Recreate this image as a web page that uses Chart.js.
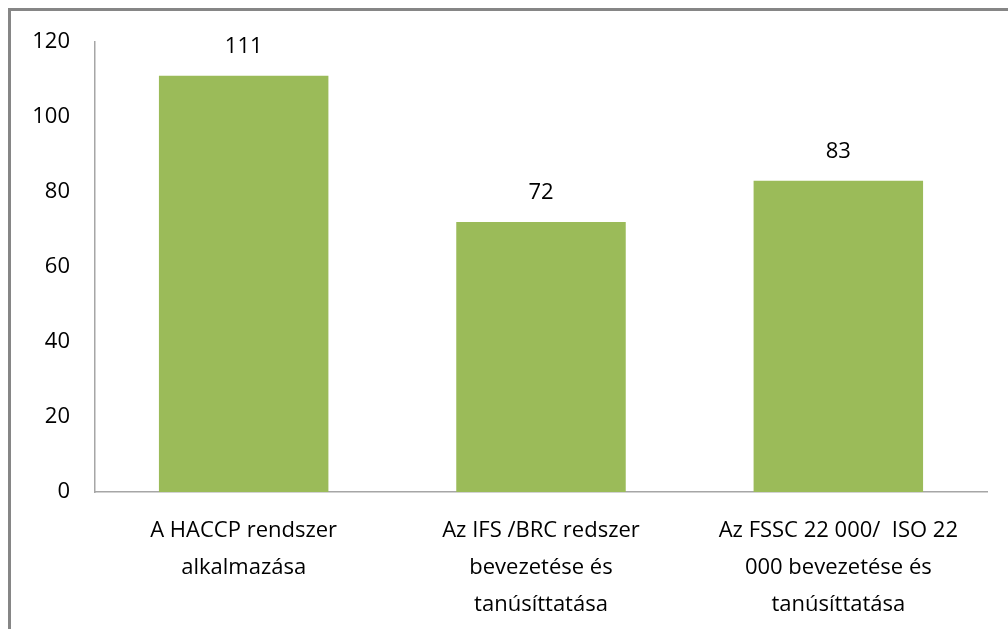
<!DOCTYPE html>
<html>
<head>
<meta charset="utf-8">
<script src="https://cdn.jsdelivr.net/npm/chart.js@4/dist/chart.umd.min.js"></script>
<style>
  html, body { margin: 0; padding: 0; background: #fff; }
  #wrap { position: relative; width: 1008px; height: 629px; }
  #frame { position: absolute; left: 8px; top: 8px; right: -10px; bottom: -10px;
           border-left: 3px solid #868686; border-top: 3px solid #868686; pointer-events: none; }
  canvas { position: absolute; left: 0; top: 0; }
</style>
</head>
<body>
<div id="wrap">
  <canvas id="bar-chart" width="1008" height="629"></canvas>
  <div id="frame"></div>
</div>
<script>
var categories = [
  ["A HACCP rendszer", "alkalmazása"],
  ["Az IFS /BRC redszer", "bevezetése és", "tanúsíttatása"],
  ["Az FSSC 22 000/  ISO 22", "000 bevezetése és", "tanúsíttatása"]
];
var values = [111, 72, 83];
var yTicks = [0, 20, 40, 60, 80, 100, 120];

var fontFamily = "'Open Sans', 'Noto Sans', sans-serif";

// szamy nad slupkami
var valueLabels = {
  id: 'valueLabels',
  afterDatasetsDraw: function(chart) {
    var ctx = chart.ctx;
    var meta = chart.getDatasetMeta(0);
    ctx.save();
    ctx.font = "22px " + fontFamily;
    ctx.fillStyle = "#000";
    ctx.textAlign = "center";
    ctx.textBaseline = "middle";
    meta.data.forEach(function(bar, i) {
      ctx.fillText(values[i], bar.x, bar.y - 29);
    });
    ctx.restore();
  }
};

new Chart(document.getElementById("bar-chart"), {
  type: 'bar',
  data: {
    labels: categories,
    datasets: [{
      data: values,
      backgroundColor: "#9BBB59",
      categoryPercentage: 1,
      barPercentage: 0.57
    }]
  },
  options: {
    responsive: false,
    animation: false,
    layout: { padding: { top: 42, right: 21, left: 0, bottom: 0 } },
    plugins: { legend: { display: false }, tooltip: { enabled: false } },
    scales: {
      x: {
        grid: { display: false, drawTicks: false },
        border: { color: "#a6a6a6", width: 1.5 },
        ticks: {
          color: "#000", padding: 20, maxRotation: 0, autoSkip: false,
          font: { family: fontFamily, size: 22, lineHeight: 1.68 }
        },
        afterFit: function(scale) { scale.height = 137; }
      },
      y: {
        min: 0, max: 120,
        afterBuildTicks: function(scale) {
          scale.ticks = yTicks.map(function(v) { return { value: v }; });
        },
        grid: { display: false, drawTicks: false },
        border: { color: "#a6a6a6", width: 1.5 },
        ticks: {
          color: "#000", padding: 25,
          font: { family: fontFamily, size: 22 }
        },
        afterFit: function(scale) { scale.width = 95; }
      }
    }
  },
  plugins: [valueLabels]
});
</script>
</body>
</html>
